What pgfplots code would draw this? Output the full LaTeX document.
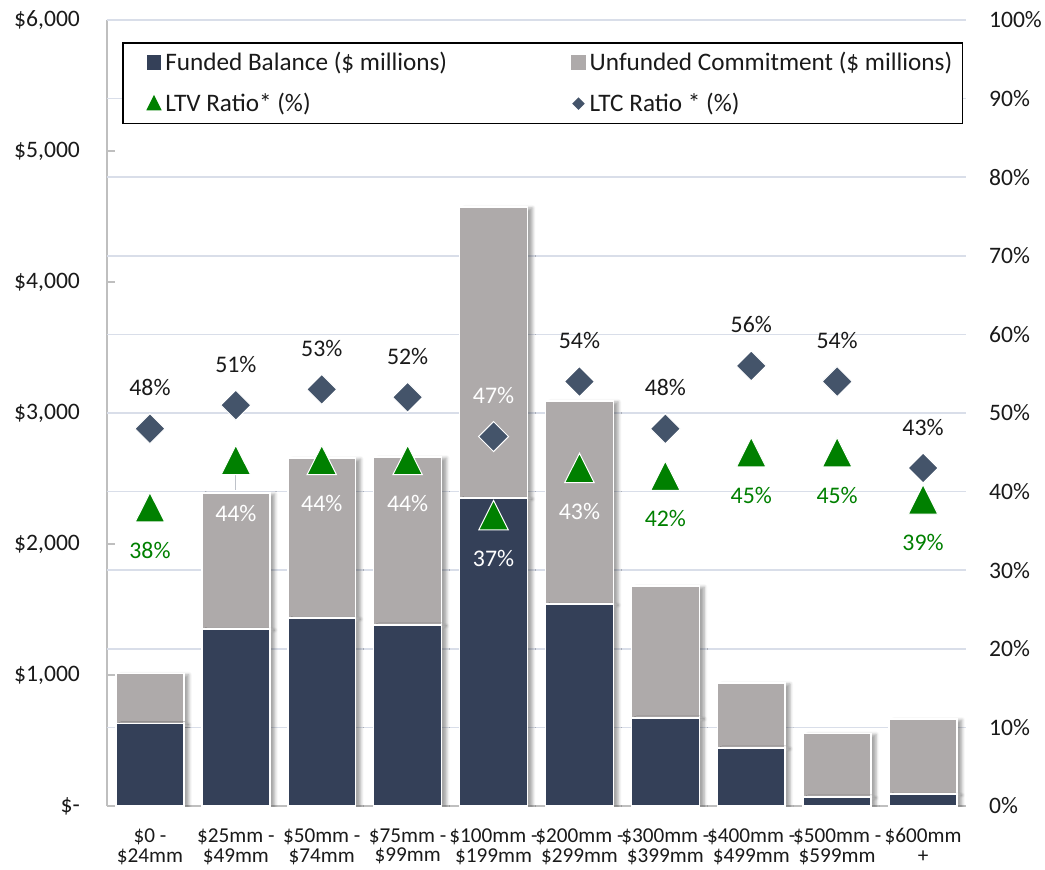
\documentclass[border=0pt]{standalone}
\usepackage{pgfplots}
\pgfplotsset{compat=1.18}
\usepackage{pgfplotstable}
\usepackage{fontspec}
\setmainfont{Carlito}
\usetikzlibrary{shadows.blur}
\definecolor{navy}{HTML}{344058}
\definecolor{ungray}{HTML}{AEAAAA}
\definecolor{ltcc}{HTML}{44546A}
\definecolor{ltvc}{HTML}{008000}
\definecolor{gridc}{HTML}{D9DEE9}
\definecolor{axc}{HTML}{BFBFBF}
\definecolor{txt}{HTML}{1A1A1A}
\newcommand{\cf}{\fontsize{11.8}{14}\selectfont}
\newcommand{\lf}{\fontsize{11.9}{14}\selectfont}
\newcommand{\xlf}{\fontsize{10.6}{9.8}\selectfont\lineskiplimit=-6pt\relax}
\newcommand{\pct}{\pgfmathprintnumber[fixed,precision=0,assume math mode=true]{\pgfplotspointmeta}\%}

\pgfplotstableread{
x funded unfunded
0 628 382
1 1350 1039
2 1434 1222
3 1383 1281
4 2351 2222
5 1541 1551
6 672 1007
7 444 495
8 70 484
9 91 573
}\bars

\begin{document}
\begin{tikzpicture}
\begin{axis}[
  scale only axis, width=429.5pt, height=393pt,
  xmin=-0.5, xmax=9.5, ymin=0, ymax=6000,
  axis y line*=left, axis x line*=bottom,
  axis line style={axc, line width=0.75pt},
  ybar stacked, bar width=0.79,
  xtick={0,...,9},
  xticklabels={{\$0 -\\\$24mm},{\$25mm -\\\$49mm},{\$50mm -\\\$74mm},{\$75mm -\\\$99mm},{\$100mm -\\\$199mm},{\$200mm -\\\$299mm},{\$300mm -\\\$399mm},{\$400mm -\\\$499mm},{\$500mm -\\\$599mm},{\$600mm\\+}},
  xticklabel style={align=center, font=\xlf, text=txt, yshift=-7.8pt, inner xsep=0pt},
  x tick style={draw=none},
  ytick={0,1000,...,6000},
  yticklabels={\$-,{\$1,000},{\$2,000},{\$3,000},{\$4,000},{\$5,000},{\$6,000}},
  yticklabel style={font=\cf, text=txt, xshift=-10pt},
  y tick style={axc, line width=0.75pt},
  tick align=inside, major tick length=4pt,
  extra y ticks={600,1200,...,6000},
  extra y tick labels={},
  extra y tick style={grid=major, major tick length=0pt},
  grid style={gridc, line width=0.75pt},
]
\addplot[fill=navy, draw=white, line width=0.75pt, blur shadow={shadow xshift=2.5pt, shadow yshift=-0.5pt, shadow blur radius=1.5pt, shadow opacity=35}] table[x=x,y=funded]{\bars};
\addplot[fill=ungray, draw=white, line width=0.75pt, blur shadow={shadow xshift=2.5pt, shadow yshift=-0.5pt, shadow blur radius=1.5pt, shadow opacity=35}] table[x=x,y=unfunded]{\bars};
\coordinate (bl) at (rel axis cs:0,0);
\coordinate (tr) at (rel axis cs:1,1);
\end{axis}
\begin{axis}[
  scale only axis, width=429.5pt, height=393pt,
  xmin=-0.5, xmax=9.5, ymin=0, ymax=100,
  axis y line*=right, axis x line=none,
  y axis line style={draw=none},
  ytick={0,10,...,100},
  yticklabels={0\%,10\%,20\%,30\%,40\%,50\%,60\%,70\%,80\%,90\%,100\%},
  yticklabel style={font=\cf, text=txt, xshift=8pt},
  y tick style={draw=none},
  legend columns=2,
  legend cell align=left,
  legend style={at={(0.0175,0.972)}, anchor=north west, draw=black, line width=0.75pt, font=\fontsize{12.6}{15}\selectfont, text=txt, inner xsep=3pt, inner ysep=2.6pt, row sep=5.75pt, /tikz/every even column/.append style={column sep=51pt}},
]
\addlegendimage{legend image code/.code={\path (0pt,0pt); \fill[navy] (9pt,-3.25pt) rectangle (15.5pt,3.25pt);}}
\addlegendentry{Funded Balance (\$ millions)}
\addlegendimage{legend image code/.code={\path (0pt,0pt); \fill[ungray] (9pt,-3.25pt) rectangle (15.5pt,3.25pt);}}
\addlegendentry{Unfunded Commitment (\$ millions)}
\addlegendimage{legend image code/.code={\path (0pt,0pt); \fill[ltvc] (9pt,-3pt) -- (15.5pt,-3pt) -- (12.25pt,3.5pt) -- cycle;}}
\addlegendentry{LTV Ratio* (\%)}
\addlegendimage{legend image code/.code={\path (0pt,0pt); \fill[ltcc] (12.25pt,-2.6pt) -- (14.85pt,0pt) -- (12.25pt,2.6pt) -- (9.65pt,0pt) -- cycle;}}
\addlegendentry{LTC Ratio * (\%)}

\draw[gridc!70!gray, line width=0.6pt] (axis cs:1,44) -- (axis cs:1,40.2);

% LTC diamonds
\addplot[forget plot, only marks, mark=square*, mark size=5.3pt, mark options={rotate=45, fill=ltcc, draw=white, line width=0.5pt}] coordinates {(0,48)(1,51)(2,53)(3,52)(4,47)(5,54)(6,48)(7,56)(8,54)(9,43)};
% LTV triangles
\addplot[forget plot, only marks, mark=triangle*, mark size=8.5pt, mark options={yshift=-2.4pt, yscale=1.15, fill=ltvc, draw=white, line width=0.5pt}] coordinates {(0,38)(1,44)(2,44)(3,44)(4,37)(5,43)(6,42)(7,45)(8,45)(9,39)};

% LTC labels
\addplot[forget plot, draw=none, mark=none, point meta=y, nodes near coords={\pct}, every node near coord/.append style={anchor=center, yshift=20.5pt, font=\lf, text=txt}] coordinates {(0,48)(1,51)(2,53)(3,52)(5,54)(6,48)(7,56)(8,54)(9,43)};
\addplot[forget plot, draw=none, mark=none, point meta=y, nodes near coords={\pct}, every node near coord/.append style={anchor=center, yshift=20.5pt, font=\lf, text=white}] coordinates {(4,47)};
% LTV labels
\addplot[forget plot, draw=none, mark=none, point meta=y, nodes near coords={\pct}, every node near coord/.append style={anchor=center, yshift=-21.5pt, font=\lf, text=ltvc}] coordinates {(0,38)(6,42)(7,45)(8,45)(9,39)};
\addplot[forget plot, draw=none, mark=none, point meta=y, nodes near coords={\pct}, every node near coord/.append style={anchor=center, yshift=-21.5pt, font=\lf, text=white}] coordinates {(2,44)(3,44)(4,37)(5,43)};
\addplot[forget plot, draw=none, mark=none, point meta=y, nodes near coords={\pct}, every node near coord/.append style={anchor=center, yshift=-26.5pt, font=\lf, text=white}] coordinates {(1,44)};
\end{axis}
\pgfresetboundingbox
\path ([shift={(-53.5pt,-31.5pt)}]bl) rectangle ([shift={(39.5pt,10pt)}]tr);
\end{tikzpicture}
\end{document}
